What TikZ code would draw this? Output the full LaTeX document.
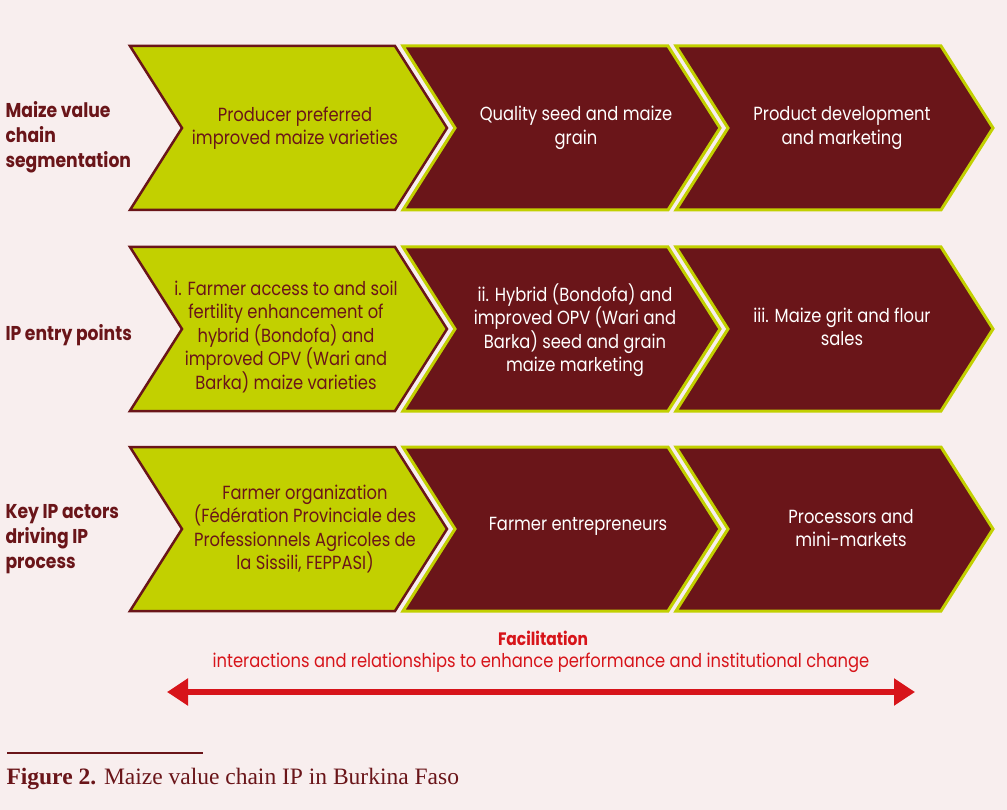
\documentclass[tikz,border=0pt]{standalone}
\usepackage{fontspec}
\setmainfont{Poppins}[FakeStretch=0.86]
\newfontfamily\capfont{Liberation Serif}
\usetikzlibrary{arrows.meta}
\definecolor{bgpink}{HTML}{F8EEEE}
\definecolor{maizegreen}{HTML}{C2D000}
\definecolor{chainred}{HTML}{6A1519}
\definecolor{facred}{HTML}{D7141A}

\begin{document}
\begin{tikzpicture}[x=1pt, y=-1pt,
    greenchev/.style={fill=maizegreen, draw=chainred, line width=2.5pt},
    redchev/.style={fill=chainred, draw=maizegreen, line width=3pt},
    greentext/.style={text=chainred, align=center, font=\fontsize{19}{23.5}\selectfont},
    redtext/.style={text=white, align=center, font=\fontsize{19}{23.5}\selectfont},
    rowlabel/.style={text=chainred, align=left, anchor=west, font=\bfseries\fontsize{20}{25}\selectfont},
    factext/.style={text=facred, font=\fontsize{19}{20}\selectfont}]

    \fill[bgpink] (0,0) rectangle (1007,810);
    \useasboundingbox (0,0) rectangle (1007,810);

    % chevrons, one row at a time
    \foreach \yt in {46,247,447}{
        \draw[greenchev] (130,\yt) -- ++(265,0) -- ++(52,82) -- ++(-52,82) -- ++(-265,0) -- ++(52,-82) -- cycle;
        \foreach \xo in {403,676}
            \draw[redchev] (\xo,\yt) -- ++(265,0) -- ++(52,82) -- ++(-52,82) -- ++(-265,0) -- ++(52,-82) -- cycle;
    }

    \node[rowlabel] (seglabel) at (2,137) {Maize value\\chain\\segmentation};
    \node[rowlabel] (entrylabel) at (2,335) {IP entry points};
    \node[rowlabel] (actorlabel) at (2,539) {Key IP actors\\driving IP\\process};

    \node[greentext] (varieties) at (295,128) {Producer preferred\\improved maize varieties};
    \node[redtext] (seed) at (576,128) {Quality seed and maize\\grain};
    \node[redtext] (product) at (842,128) {Product development\\and marketing};

    \node[greentext] (access) at (286,337) {i. Farmer access to and soil\\fertility enhancement of\\hybrid (Bondofa) and\\improved OPV (Wari and\\Barka) maize varieties};
    \node[redtext] (hybrid) at (575,330) {ii. Hybrid (Bondofa) and\\improved OPV (Wari and\\Barka) seed and grain\\maize marketing};
    \node[redtext] (grit) at (842,327) {iii. Maize grit and flour\\sales};

    \node[greentext] (farmorg) at (305,529) {Farmer organization\\(Fédération Provinciale des\\Professionnels Agricoles de\\la Sissili, FEPPASI)};
    \node[redtext] (entrepreneurs) at (578,526) {Farmer entrepreneurs};
    \node[redtext] (processors) at (851,528) {Processors and\\mini-markets};

    \node[factext, font=\bfseries\fontsize{18}{20}\selectfont] (facil) at (543,638) {Facilitation};
    \node[factext] (facdesc) at (541,663) {interactions and relationships to enhance performance and institutional change};
    \coordinate (arrowleft) at (167,692);
    \coordinate (arrowright) at (915,692);
    \draw[{Triangle[length=21pt,width=26pt]}-{Triangle[length=21pt,width=26pt]}, facred, line width=5.5pt] (arrowleft) -- (arrowright);

    \draw[chainred, line width=2.5pt] (7,753) -- (203,753);
    \node[anchor=west, text=chainred, font=\capfont\fontsize{23.5}{26}\selectfont] (caption) at (3,779) {\textbf{Figure 2.} Maize value chain IP in Burkina Faso};
\end{tikzpicture}
\end{document}
